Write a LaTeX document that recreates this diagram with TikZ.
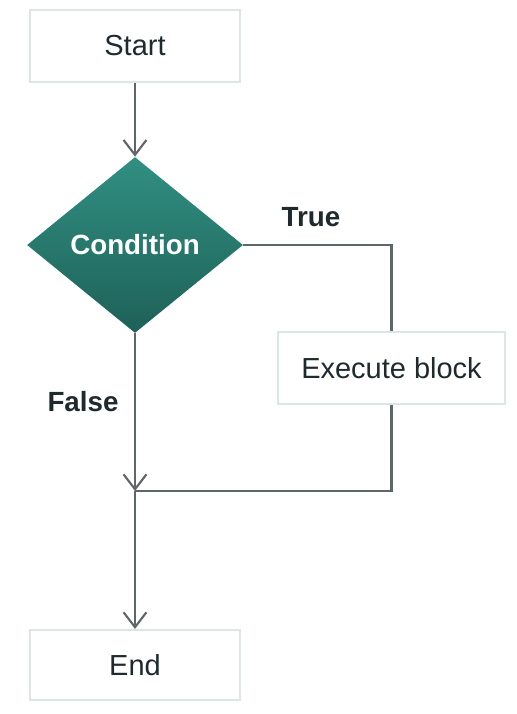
\documentclass[tikz,border=0pt]{standalone}
\usepackage{fontspec}
\setmainfont{Liberation Sans}
\usetikzlibrary{shapes.geometric,arrows.meta}

\definecolor{linegray}{HTML}{5F6668}
\definecolor{boxedge}{HTML}{DDE6E4}
\definecolor{textdark}{HTML}{1F2A2E}
\definecolor{tealtop}{HTML}{318F82}
\definecolor{tealbot}{HTML}{1E6158}

\tikzset{
    flowbox/.style={draw=boxedge, line width=1.2pt, fill=white, text=textdark,
        minimum width=4.2cm, minimum height=1.44cm, inner sep=0pt,
        font=\fontsize{16.5}{19}\selectfont},
    decision/.style={diamond, aspect=1.23, inner sep=0pt,
        minimum width=4.32cm, minimum height=3.52cm,
        top color=tealtop, bottom color=tealbot, text=white,
        font=\fontsize{15.8}{19}\selectfont\bfseries},
    flow/.style={draw=linegray, line width=1.2pt},
    flowarrow/.style={flow, -{Straight Barb[length=8.5pt, width=13pt, line width=1.2pt]}},
    branch/.style={text=textdark, font=\fontsize{15.8}{19}\selectfont\bfseries}
}

\begin{document}
\begin{tikzpicture}[x=0.02cm, y=-0.02cm]
    \useasboundingbox (0,0) rectangle (517,714);

    % Boxes and the decision
    \node[flowbox] (start) at (135, 46) {Start};
    \node[decision] (cond) at (135, 245) {Condition};
    \node[flowbox, minimum width=4.54cm] (exec) at (391.5, 368) {Execute block};
    \node[flowbox, minimum height=1.4cm] (end) at (135, 665) {End};

    % Branch labels
    \node[branch] (truelbl) at (311, 217) {True};
    \node[branch] (falselbl) at (83, 402) {False};

    % Points where the lines turn
    \coordinate (truecorner) at (391.5, 245);
    \coordinate (join) at (135, 491);
    \coordinate (joincorner) at (391.5, 491);

    % Connectors
    \draw[flowarrow] (start) -- (cond);
    \draw[flow] (cond.east) -- (truecorner) -- (exec.north);
    \draw[flowarrow] (cond.south) -- (join);
    \draw[flow] (exec.south) -- (joincorner) -- (join);
    \draw[flowarrow] (join) -- (end.north);
\end{tikzpicture}
\end{document}
